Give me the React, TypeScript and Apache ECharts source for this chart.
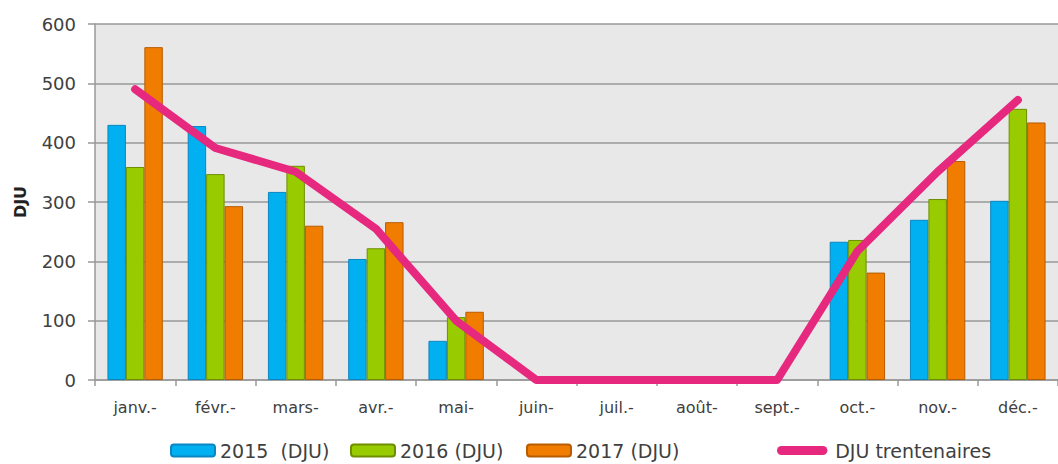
import React, { useEffect, useRef } from "react";
import * as echarts from "echarts";

const categories = ["janv.-", "févr.-", "mars-", "avr.-", "mai-", "juin-", "juil.-", "août-", "sept.-", "oct.-", "nov.-", "déc.-"];
const dju2015 = [430, 428, 317, 204, 66, null, null, null, null, 233, 270, 302];
const dju2016 = [359, 347, 361, 222, 106, null, null, null, null, 236, 305, 457];
const dju2017 = [561, 293, 260, 266, 115, null, null, null, null, 181, 369, 434];
const djuTrentenaires = [490, 391, 351, 255, 100, 0, 0, 0, 0, 217, 351, 472];
const yTicks = [0, 100, 200, 300, 400, 500, 600];
const seriesNames = ["2015  (DJU)", "2016 (DJU)", "2017 (DJU)", "DJU trentenaires"];

const FONT = "'DejaVu Sans', sans-serif";

export default function App() {
  const ref = useRef<HTMLDivElement>(null);
  useEffect(() => {
    if (!ref.current) return;
    const chart = echarts.init(ref.current, null, { renderer: "svg" });
    const barSeries = (name: string, data: (number | null)[], color: string, border: string) => ({
      name,
      type: "bar",
      data,
      barGap: "0%",
      barCategoryGap: "31%",
      itemStyle: { color, borderColor: border, borderWidth: 1 },
    });
    const legendLefts = [170, 350, 526, 777];
    const legends = seriesNames.map((name, i) => {
      const isLine = i === 3;
      return {
        top: 441,
        left: legendLefts[i],
        padding: 0,
        itemWidth: isLine ? 56 : 44,
        itemHeight: isLine ? 9 : 12,
        textStyle: { fontFamily: FONT, fontSize: 19, color: "#404040" },
        data: [
          isLine
            ? {
                name,
                icon: "path://M5,0 L51,0 A5,5 0 0 1 51,10 L5,10 A5,5 0 0 1 5,0 Z",
                itemStyle: { color: "#E6287F" },
              }
            : { name },
        ],
      };
    });
    chart.setOption({
      animation: false,
      textStyle: { fontFamily: FONT },
      grid: { left: 95, right: 0, top: 24, bottom: 84, backgroundColor: "#E8E8E8", show: true, borderWidth: 0 },
      legend: legends,
      xAxis: {
        type: "category",
        data: categories,
        axisLine: { lineStyle: { color: "#999999", width: 1.5 } },
        axisTick: { show: true, length: 6, lineStyle: { color: "#999999", width: 1.5 } },
        axisLabel: { fontFamily: FONT, fontSize: 16, color: "#404040", margin: 19 },
      },
      yAxis: {
        type: "value",
        min: 0,
        max: 600,
        interval: 100,
        name: "DJU",
        nameLocation: "middle",
        nameGap: 67,
        nameTextStyle: { fontFamily: FONT, fontSize: 16, fontWeight: "bold", color: "#222" },
        axisLine: { show: true, lineStyle: { color: "#999999", width: 1.5 } },
        axisTick: { show: true, length: 7, lineStyle: { color: "#999999", width: 1.5 } },
        splitLine: { lineStyle: { color: "#999999", width: 1.5 } },
        axisLabel: {
          fontFamily: FONT,
          fontSize: 18,
          color: "#404040",
          margin: 19,
          formatter: (v: number) => (yTicks.includes(v) ? String(v) : ""),
        },
      },
      series: [
        barSeries(seriesNames[0], dju2015, "#00B0F0", "#0A86C0"),
        barSeries(seriesNames[1], dju2016, "#99CC00", "#6E8E00"),
        barSeries(seriesNames[2], dju2017, "#F07C00", "#B85C00"),
        {
          name: seriesNames[3],
          type: "line",
          data: djuTrentenaires,
          symbol: "none",
          lineStyle: { color: "#E6287F", width: 8, cap: "round", join: "round" },
          itemStyle: { color: "#E6287F" },
          z: 5,
        },
      ],
    });
    return () => chart.dispose();
  }, []);
  return <div ref={ref} style={{ width: 1058, height: 464, position: "absolute", left: 0, top: 0 }} />;
}
